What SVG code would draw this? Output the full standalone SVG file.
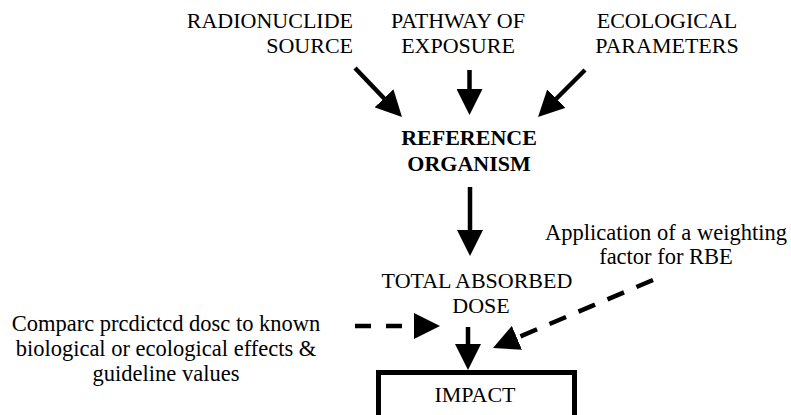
<svg xmlns="http://www.w3.org/2000/svg" width="791" height="415" viewBox="0 0 791 415">
<style>
text{font-family:'Liberation Serif','Times New Roman',serif;font-size:22px;fill:#000;}
.s{font-size:22.5px;}
.b{font-weight:bold;}
.m{text-anchor:middle;}
.e{text-anchor:end;}
.c{stroke:#000;stroke-width:4.5;fill:none;stroke-linecap:butt;marker-end:url(#ah);}
.d{stroke-dasharray:16 15;}
.d2{stroke-dasharray:18 13.5;}
</style>
<defs>
<marker id="ah" markerUnits="userSpaceOnUse" markerWidth="26" markerHeight="26" refX="2" refY="13" orient="auto" viewBox="0 0 26 26">
<path d="M0,0 L26,13 L0,26 z" fill="#000"/>
</marker>
</defs>
<g id="source">
<text class="e" x="353" y="28">RADIONUCLIDE</text>
<text class="e" x="353" y="53">SOURCE</text>
</g>
<g id="pathway">
<text class="m" x="458" y="28">PATHWAY OF</text>
<text class="m" x="458" y="53">EXPOSURE</text>
</g>
<g id="ecological">
<text class="m" x="667" y="28">ECOLOGICAL</text>
<text class="m" x="667" y="53">PARAMETERS</text>
</g>
<g id="reference">
<text class="m b" x="469" y="145">REFERENCE</text>
<text class="m b" x="469" y="171">ORGANISM</text>
</g>
<g id="dose">
<text class="m" x="477" y="288">TOTAL ABSORBED</text>
<text class="m" x="481" y="313">DOSE</text>
</g>
<g id="rbe">
<text class="m s" x="666" y="240">Application of a weighting</text>
<text class="m s" x="666" y="264">factor for RBE</text>
</g>
<g id="compare">
<text class="m s" x="166" y="331">Comparc prcdictcd dosc to known</text>
<text class="m s" x="166" y="356">biological or ecological effects &amp;</text>
<text class="m s" x="166" y="381">guideline values</text>
</g>
<g id="impact">
<rect x="378.5" y="372.5" width="196" height="60" fill="none" stroke="#000" stroke-width="5"/>
<text class="m" x="475" y="402">IMPACT</text>
</g>
<g id="connectors">
<line class="c" x1="355" y1="68" x2="385.4" y2="99.7"/>
<line class="c" x1="469.5" y1="70" x2="469.5" y2="91"/>
<line class="c" x1="585" y1="70" x2="555" y2="100"/>
<line class="c" x1="470" y1="187" x2="470" y2="232"/>
<line class="c" x1="468" y1="327" x2="468" y2="346"/>
<line class="c d" x1="355" y1="326" x2="416" y2="326"/>
<line class="c d2" x1="653" y1="280" x2="515.1" y2="338.6"/>
</g>
</svg>
